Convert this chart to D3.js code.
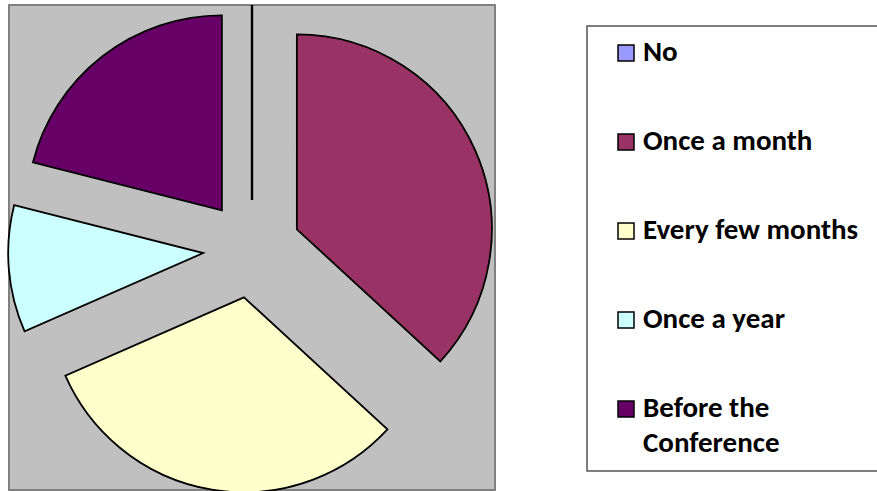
<!DOCTYPE html>
<html>
<head>
<meta charset="utf-8">
<script src="https://cdn.jsdelivr.net/npm/d3@7"></script>
<style>
  html, body { margin: 0; padding: 0; background: #ffffff; }
  svg { display: block; }
</style>
</head>
<body>
<svg id="chart" width="877" height="491"></svg>
<script>
// ---- data ----
const categories = ["No", "Once a month", "Every few months", "Once a year", "Before the Conference"];
const values = [0, 7, 6, 2, 4];
const colors = ["#9999FF", "#993366", "#FFFFCC", "#CCFFFF", "#660066"];

// ---- layout ----
const plot = { x: 9, y: 5, w: 486, h: 485 };
const center = { x: 252, y: 249 };
const radius = 195;
const explode = 49;

const svg = d3.select("#chart");

// plot area background
svg.append("rect")
  .attr("x", plot.x).attr("y", plot.y)
  .attr("width", plot.w).attr("height", plot.h)
  .attr("fill", "#C0C0C0")
  .attr("stroke", "#808080")
  .attr("stroke-width", 2);

const pie = d3.pie().sort(null).value(d => d.value);
const arc = d3.arc().innerRadius(0).outerRadius(radius);
const data = categories.map((c, i) => ({ name: c, value: values[i], color: colors[i] }));
const arcs = pie(data);

const g = svg.append("g").attr("transform", `translate(${center.x},${center.y})`);
g.selectAll("path.slice")
  .data(arcs)
  .join("path")
  .attr("class", "slice")
  .attr("d", arc)
  .attr("fill", d => d.data.color)
  .attr("stroke", "#000")
  .attr("stroke-width", d => d.data.value === 0 ? 2.4 : 1.8)
  .attr("stroke-linejoin", "miter")
  .attr("transform", d => {
    const m = (d.startAngle + d.endAngle) / 2;
    return `translate(${explode * Math.sin(m)},${-explode * Math.cos(m)})`;
  });

// ---- legend ----
const legend = { x: 587, y: 26, w: 300, h: 445 };
svg.append("rect")
  .attr("x", legend.x).attr("y", legend.y)
  .attr("width", legend.w).attr("height", legend.h)
  .attr("fill", "#fff")
  .attr("stroke", "#3a3a3a")
  .attr("stroke-width", 1.3);

const firstBaseline = 61, step = 89, lineH = 35;
const fontSize = 29;
const maxTextW = 228;

const items = svg.append("g").selectAll("g.item")
  .data(data)
  .join("g")
  .attr("class", "item");

items.append("rect")
  .attr("x", 618)
  .attr("y", (d, i) => firstBaseline + i * step - 16)
  .attr("width", 16).attr("height", 16)
  .attr("fill", d => d.color)
  .attr("stroke", "#000")
  .attr("stroke-width", 1.5);

items.append("text")
  .attr("x", 643)
  .attr("y", (d, i) => firstBaseline + i * step)
  .attr("font-family", "Carlito, Calibri, Lato, sans-serif")
  .attr("font-weight", "bold")
  .attr("font-size", fontSize)
  .attr("fill", "#000")
  .each(function (d) {
    const t = d3.select(this);
    const words = d.name.split(" ");
    let line = [];
    let tspan = t.append("tspan").attr("x", 643).attr("dy", 0);
    words.forEach(w => {
      line.push(w);
      tspan.text(line.join(" "));
      if (tspan.node().getComputedTextLength() > maxTextW && line.length > 1) {
        line.pop();
        tspan.text(line.join(" "));
        line = [w];
        tspan = t.append("tspan").attr("x", 643).attr("dy", lineH).text(w);
      }
    });
  });
</script>
</body>
</html>
